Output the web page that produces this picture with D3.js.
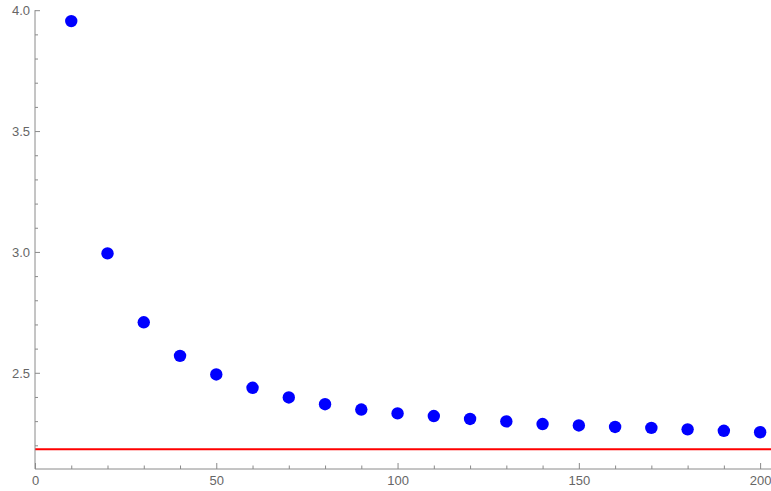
<!DOCTYPE html>
<html>
<head>
<meta charset="utf-8">
<script src="https://cdn.jsdelivr.net/npm/d3@7"></script>
<style>
  body { margin: 0; background: #fff; }
  text { font-family: "Liberation Sans", Arial, sans-serif; }
</style>
</head>
<body>
<script>
var w = 771;
var h = 491;

var xs = [10, 20, 30, 40, 50, 60, 70, 80, 90, 100, 110, 120, 130, 140, 150, 160, 170, 180, 190, 200];
var ys = [3.955, 2.994, 2.709, 2.570, 2.493, 2.438, 2.398, 2.370, 2.348, 2.332,
          2.321, 2.309, 2.299, 2.288, 2.282, 2.276, 2.272, 2.266, 2.260, 2.254];
var limit = 2.184;

var xTicks = [0, 50, 100, 150, 200];
var yTicks = [2.5, 3.0, 3.5, 4.0];

var xScale = d3.scaleLinear().domain([0, 203]).range([35, 771]);
var yScale = d3.scaleLinear().domain([2.102, 4.0]).range([469, 10.2]);

var svg = d3.select("body").append("svg")
  .attr("width", w)
  .attr("height", h);

// red reference line
svg.append("line")
  .attr("x1", xScale(0)).attr("x2", xScale(203))
  .attr("y1", yScale(limit)).attr("y2", yScale(limit))
  .attr("stroke", "#ff0000")
  .attr("stroke-width", 2);

// axes (Mathematica-like: ticks point inward)
var axisColor = "#8a8a8a";
var labelColor = "#666666";

var xAxis = d3.axisTop(xScale)
  .tickValues(d3.range(0, 201, 10))
  .tickSize(0)
  .tickFormat("");
var gx = svg.append("g")
  .attr("transform", "translate(0," + yScale.range()[0] + ")")
  .call(xAxis);
gx.select(".domain").attr("stroke", axisColor).attr("d", "M" + xScale(0) + ",0H" + xScale(203));
gx.selectAll(".tick line")
  .attr("stroke", axisColor)
  .attr("y2", function(d) { return d % 50 === 0 ? -6 : -3.5; });
gx.selectAll(".tick")
  .filter(function(d) { return xTicks.indexOf(d) >= 0; })
  .append("text")
  .attr("y", 16)
  .attr("text-anchor", "middle")
  .attr("fill", labelColor)
  .attr("font-size", 13)
  .text(function(d) { return d; });

var yAxis = d3.axisRight(yScale)
  .tickValues(d3.range(22, 41).map(function(d) { return d / 10; }))
  .tickSize(0)
  .tickFormat("");
var gy = svg.append("g")
  .attr("transform", "translate(" + xScale(0) + ",0)")
  .call(yAxis);
gy.select(".domain").attr("stroke", axisColor).attr("d", "M0," + yScale(2.102) + "V" + yScale(4.0));
gy.selectAll(".tick line")
  .attr("stroke", axisColor)
  .attr("x2", function(d) { return yTicks.indexOf(d) >= 0 ? 5 : 3; });
gy.selectAll(".tick")
  .filter(function(d) { return yTicks.indexOf(d) >= 0; })
  .append("text")
  .attr("x", -5)
  .attr("dy", "0.35em")
  .attr("text-anchor", "end")
  .attr("fill", labelColor)
  .attr("font-size", 13)
  .text(function(d) { return d3.format(".1f")(d); });

// points
svg.selectAll("circle.pt")
  .data(xs)
  .enter()
  .append("circle")
  .attr("class", "pt")
  .attr("cx", function(d) { return xScale(d); })
  .attr("cy", function(d, i) { return yScale(ys[i]); })
  .attr("r", 6.2)
  .attr("fill", "#0000ff");
</script>
</body>
</html>
